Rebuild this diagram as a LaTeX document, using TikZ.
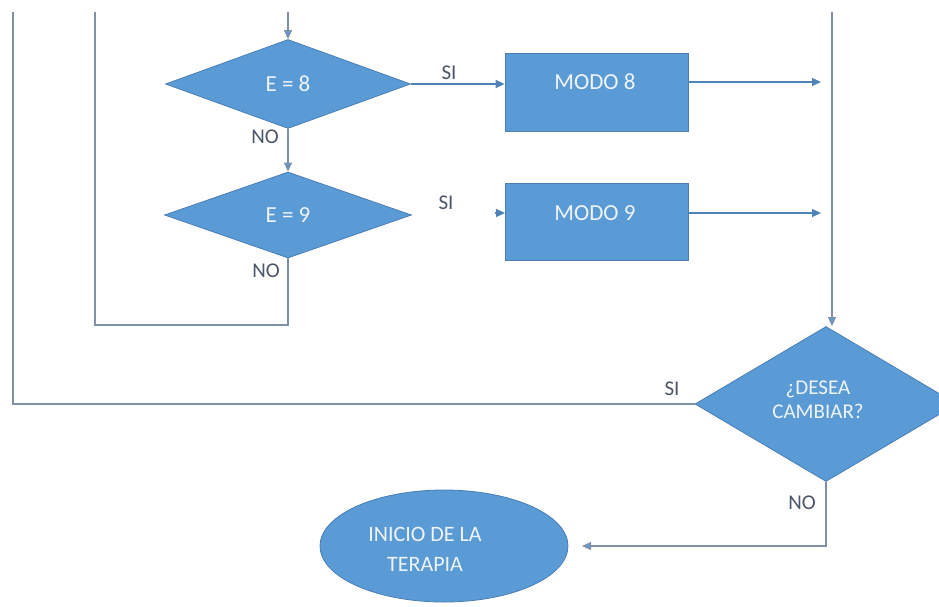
\documentclass[tikz,border=0pt]{standalone}
\usepackage{fontspec}
\setmainfont{Carlito}
\usetikzlibrary{shapes.geometric,arrows.meta}
\definecolor{shapeblue}{HTML}{5B9BD5}
\definecolor{shapeedge}{HTML}{4A7EB5}
\definecolor{linegray}{HTML}{8290A6}
\definecolor{labelgray}{HTML}{4A5568}
\definecolor{shapetext}{HTML}{EEF4FA}
\tikzset{
  dec/.style={diamond, fill=shapeblue, draw=shapeedge, line width=0.8pt, inner sep=0pt, text=shapetext, font=\fontsize{23}{26}\selectfont, align=center},
  modobox/.style={rectangle, fill=shapeblue, draw=shapeedge, line width=0.8pt, inner sep=0pt},
  boxtext/.style={text=shapetext, font=\fontsize{23}{26}\selectfont},
  term/.style={ellipse, fill=shapeblue, draw=shapeedge, line width=0.8pt, inner sep=0pt},
  termtext/.style={text=shapetext, font=\fontsize{22}{30}\selectfont, align=center},
  lbl/.style={text=labelgray, font=\fontsize{21}{22}\selectfont, inner sep=0pt},
  gline/.style={draw=linegray, line width=1.3pt},
  barrow/.style={draw=shapeblue!85!black, line width=1.3pt, -{Triangle[length=9pt,width=8pt]}},
  garrow/.style={draw=linegray, line width=1.3pt, -{Triangle[length=9pt,width=8pt,fill=shapeblue]}}
}
\begin{document}
\begin{tikzpicture}[x=1pt,y=-1pt]
\useasboundingbox (0,0) rectangle (939,606);
% decisions
\node[dec, minimum width=245pt, minimum height=89pt] (d1) at (288,84) {E = 8};
\node[dec, minimum width=247pt, minimum height=86pt] (d2) at (288,215) {E = 9};
\node[dec, minimum width=262pt, minimum height=155pt] (d3) at (826,404) {};
\node[boxtext, align=center, font=\fontsize{21}{24}\selectfont] (d3t) at (818,400) {¿DESEA\\CAMBIAR?};
% boxes
\node[modobox, minimum width=183pt, minimum height=78pt] (m8) at (596.5,92) {};
\node[boxtext] (m8t) at (595,82) {MODO 8};
\node[modobox, minimum width=183pt, minimum height=77pt] (m9) at (596.5,221.5) {};
\node[boxtext] (m9t) at (595,213) {MODO 9};
% terminal
\node[term, minimum width=248pt, minimum height=112pt] (ell) at (444,546) {};
\node[termtext] (ellt) at (425,549) {INICIO DE LA\\TERAPIA};
% coordinates
\coordinate (top1) at (288,12);
\coordinate (topL) at (13,12);
\coordinate (topM) at (95,12);
\coordinate (topR) at (832,12);
\coordinate (loopA) at (288,325);
\coordinate (loopB) at (95,325);
\coordinate (e8a) at (688,82);
\coordinate (e8b) at (821,82);
\coordinate (e9a) at (688,213);
\coordinate (e9b) at (821,213);
\coordinate (s9a) at (495,213);
\coordinate (s9b) at (505,213);
\coordinate (nA) at (826,546);
\coordinate (ellin) at (582,546);
% connectors
\draw[garrow] (top1) -- (d1.north);
\draw[garrow] (d1.south) -- (d2.north);
\draw[barrow] (d1.east) -- (d1.east -| m8.west);
\draw[barrow] (e8a) -- (e8b);
\draw[barrow] (e9a) -- (e9b);
\draw[barrow] (s9a) -- (s9b);
\draw[gline] (d2.south) -- (loopA) -- (loopB) -- (topM);
\draw[gline] (d3.west) -- (d3.west -| topL) -- (topL);
\draw[garrow] (topR) -- (topR |- d3.north);
\draw[gline, -{Triangle[length=9pt,width=8pt,fill=shapeblue]}] (d3.south) -- (nA) -- (ellin);
% labels
\node[lbl] (si1) at (449,73) {SI};
\node[lbl] (no1) at (265,137) {NO};
\node[lbl] (si2) at (446,203) {SI};
\node[lbl] (no2) at (266,271) {NO};
\node[lbl] (si3) at (672,389) {SI};
\node[lbl] (no3) at (802,503) {NO};
\end{tikzpicture}
\end{document}
